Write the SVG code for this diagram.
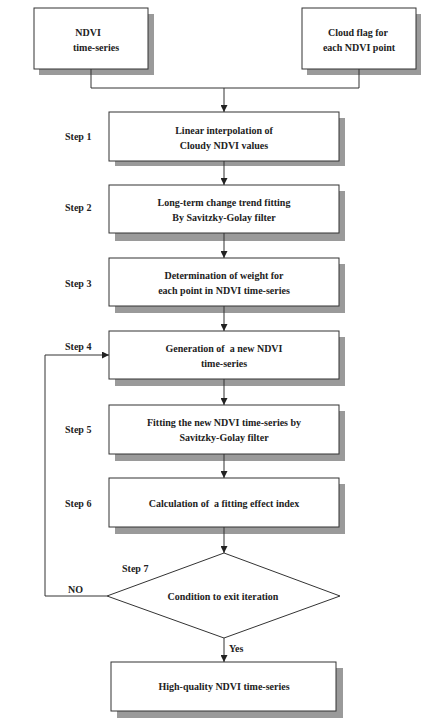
<svg xmlns="http://www.w3.org/2000/svg" width="446" height="719" viewBox="0 0 446 719">
<defs>
<marker id="ah" viewBox="0 0 10 10" refX="10" refY="5" markerWidth="7" markerHeight="7" markerUnits="userSpaceOnUse" orient="auto">
<path d="M0,0 L10,5 L0,10 Z" fill="#222"/>
</marker>
<style>
.box{fill:#fff;stroke:#333;stroke-width:1}
.sh{fill:#9a9a9a;stroke:none}
.t{font-family:'Liberation Serif','Times New Roman',serif;font-weight:bold;font-size:10px;fill:#222;text-anchor:middle}
.l{font-family:'Liberation Serif','Times New Roman',serif;font-weight:bold;font-size:10px;fill:#222}
.c{fill:none;stroke:#333;stroke-width:1}
</style>
</defs>
<rect width="446" height="719" fill="#fff"/>
<g id="ndvi">
<rect class="sh" x="39" y="14" width="115" height="61"/>
<rect class="box" x="34" y="8" width="114" height="61"/>
<text class="t" x="88" y="36">NDVI</text>
<text class="t" x="96" y="51">time-series</text>
</g>
<g id="cloud">
<rect class="sh" x="307" y="14" width="114" height="61"/>
<rect class="box" x="302" y="8" width="114" height="61"/>
<text class="t" x="358" y="36">Cloud flag for</text>
<text class="t" x="359" y="51">each NDVI point</text>
</g>
<g id="step1">
<rect class="sh" x="115" y="118" width="230" height="48"/>
<rect class="box" x="109" y="112" width="230" height="49"/>
<text class="t" x="224" y="134">Linear interpolation of</text>
<text class="t" x="224" y="149">Cloudy NDVI values</text>
</g>
<g id="step2">
<rect class="sh" x="115" y="191" width="230" height="50"/>
<rect class="box" x="109" y="185" width="230" height="48"/>
<text class="t" x="224" y="206">Long-term change trend fitting</text>
<text class="t" x="224" y="221">By Savitzky-Golay filter</text>
</g>
<g id="step3">
<rect class="sh" x="115" y="264" width="230" height="49"/>
<rect class="box" x="109" y="258" width="230" height="48"/>
<text class="t" x="224" y="279">Determination of weight for</text>
<text class="t" x="224" y="294">each point in NDVI time-series</text>
</g>
<g id="step4">
<rect class="sh" x="115" y="337" width="230" height="49"/>
<rect class="box" x="109" y="331" width="230" height="48"/>
<text class="t" x="224" y="352">Generation of&#160; a new NDVI</text>
<text class="t" x="224" y="367">time-series</text>
</g>
<g id="step5">
<rect class="sh" x="115" y="411" width="230" height="50"/>
<rect class="box" x="109" y="405" width="230" height="49"/>
<text class="t" x="224" y="426">Fitting the new NDVI time-series by</text>
<text class="t" x="224" y="441">Savitzky-Golay filter</text>
</g>
<g id="step6">
<rect class="sh" x="115" y="484" width="230" height="50"/>
<rect class="box" x="109" y="478" width="230" height="49"/>
<text class="t" x="224" y="507">Calculation of&#160; a fitting effect index</text>
</g>
<g id="step7">
<path d="M224,553 L340,596 L224,638 L107,596 Z" fill="#fff" stroke="#333" stroke-width="1"/>
<text class="t" x="223" y="600">Condition to exit iteration</text>
</g>
<g id="result">
<rect class="sh" x="117" y="668" width="226" height="50"/>
<rect class="box" x="111" y="662" width="225" height="49"/>
<text class="t" x="224" y="690">High-quality NDVI time-series</text>
</g>
<g id="labels">
<text class="l" x="65" y="140">Step 1</text>
<text class="l" x="65" y="211">Step 2</text>
<text class="l" x="65" y="287">Step 3</text>
<text class="l" x="65" y="350">Step 4</text>
<text class="l" x="65" y="433">Step 5</text>
<text class="l" x="65" y="507">Step 6</text>
<text class="l" x="122" y="572">Step 7</text>
<text class="l" x="68" y="593">NO</text>
<text class="l" x="229" y="652">Yes</text>
</g>
<g id="connectors">
<path class="c" d="M91,69 V88 H359 V69"/>
<path class="c" d="M224,88 V112" marker-end="url(#ah)"/>
<path class="c" d="M224,161 V185" marker-end="url(#ah)"/>
<path class="c" d="M224,233 V258" marker-end="url(#ah)"/>
<path class="c" d="M224,306 V331" marker-end="url(#ah)"/>
<path class="c" d="M224,379 V405" marker-end="url(#ah)"/>
<path class="c" d="M224,454 V478" marker-end="url(#ah)"/>
<path class="c" d="M224,527 V553" marker-end="url(#ah)"/>
<path class="c" d="M224,638 V662" marker-end="url(#ah)"/>
<path class="c" d="M107,596 H45 V355 H109" marker-end="url(#ah)"/>
</g>
</svg>
